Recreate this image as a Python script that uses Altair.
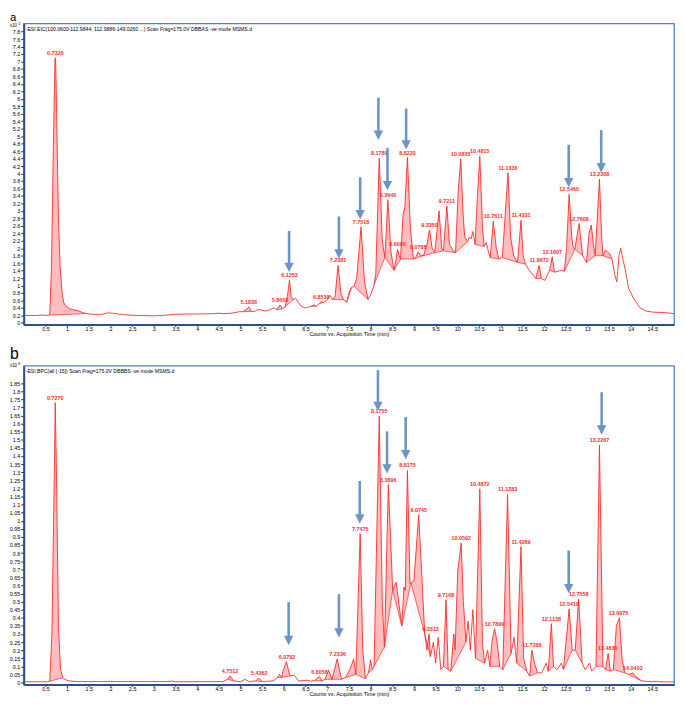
import altair as alt
import numpy as np
import pandas as pd

# ---------------- panel a (EIC, x10^5) ----------------
a_trace = [
    (0.02, 0.20), (0.30, 0.20), (0.45, 0.21), (0.55, 0.20), (0.60, 0.21), (0.64, 1.5), (0.68, 4.5),
    (0.72, 7.05), (0.735, 7.1), (0.76, 5.5), (0.80, 2.8), (0.84, 1.5), (0.88, 0.85), (0.92, 0.55),
    (0.97, 0.45), (1.05, 0.38), (1.15, 0.35), (1.25, 0.33), (1.35, 0.28), (1.45, 0.25), (1.6, 0.23),
    (1.8, 0.23), (1.95, 0.27), (2.05, 0.26), (2.3, 0.22), (2.6, 0.20), (3.0, 0.19), (3.2, 0.20),
    (3.5, 0.23), (3.8, 0.24), (4.1, 0.24), (4.4, 0.25), (4.5, 0.26), (4.6, 0.25), (4.8, 0.26),
    (4.97, 0.30), (5.05, 0.30), (5.12, 0.34), (5.19, 0.43), (5.25, 0.31), (5.32, 0.30), (5.40, 0.36),
    (5.47, 0.35), (5.55, 0.32), (5.65, 0.34), (5.72, 0.38), (5.78, 0.41), (5.83, 0.35), (5.91, 0.48),
    (5.97, 0.38), (6.03, 0.43), (6.08, 0.70), (6.13, 1.15), (6.17, 0.70), (6.21, 0.62), (6.27, 0.66),
    (6.33, 0.55), (6.40, 0.45), (6.48, 0.40), (6.55, 0.42), (6.62, 0.44), (6.69, 0.48), (6.75, 0.45),
    (6.82, 0.52), (6.86, 0.57), (6.92, 0.55), (6.99, 0.60), (7.06, 0.74), (7.12, 0.63), (7.18, 0.70),
    (7.25, 1.54), (7.32, 0.75), (7.38, 0.62), (7.45, 0.55), (7.50, 0.80), (7.56, 0.95), (7.62, 0.98),
    (7.68, 1.20), (7.78, 2.57), (7.86, 1.10), (7.94, 0.63), (8.02, 0.80), (8.08, 1.02), (8.12, 1.30),
    (8.20, 4.41), (8.27, 2.20), (8.33, 1.75), (8.40, 3.30), (8.47, 1.90), (8.54, 1.41), (8.59, 1.70),
    (8.62, 1.97), (8.66, 1.80), (8.69, 1.71), (8.75, 2.90), (8.79, 3.10), (8.85, 4.43), (8.92, 2.50),
    (8.99, 1.71), (9.05, 1.78), (9.10, 1.90), (9.15, 1.82), (9.22, 1.80), (9.30, 2.10), (9.36, 2.49),
    (9.42, 2.00), (9.48, 1.88), (9.58, 3.00), (9.64, 2.00), (9.68, 1.93), (9.76, 3.13), (9.82, 2.10),
    (9.90, 1.95), (9.96, 1.88), (10.02, 3.50), (10.08, 4.40), (10.13, 3.00), (10.17, 2.31), (10.24, 2.18),
    (10.28, 2.30), (10.32, 2.25), (10.36, 2.45), (10.41, 2.10), (10.46, 3.30), (10.52, 4.46), (10.58, 2.60),
    (10.62, 2.05), (10.67, 2.15), (10.72, 1.90), (10.76, 1.75), (10.83, 2.72), (10.90, 2.00), (10.96, 1.71),
    (11.04, 1.75), (11.10, 2.80), (11.17, 4.02), (11.23, 2.30), (11.30, 1.80), (11.39, 1.62), (11.47, 2.75),
    (11.52, 1.80), (11.57, 1.58), (11.65, 1.42), (11.72, 1.32), (11.81, 1.19), (11.89, 1.54), (11.94, 1.19),
    (12.02, 1.14), (12.13, 1.41), (12.19, 1.77), (12.24, 1.36), (12.32, 1.38), (12.39, 1.41), (12.47, 1.38),
    (12.52, 2.00), (12.58, 3.44), (12.64, 2.30), (12.67, 2.05), (12.71, 1.97), (12.81, 2.66), (12.89, 1.80),
    (12.98, 1.62), (13.04, 2.40), (13.09, 2.62), (13.14, 2.10), (13.18, 1.80), (13.28, 3.85), (13.33, 2.30),
    (13.36, 1.80), (13.42, 1.95), (13.47, 1.89), (13.52, 1.84), (13.57, 1.71), (13.63, 1.30), (13.68, 1.10),
    (13.73, 1.80), (13.77, 2.00), (13.82, 1.70), (13.87, 1.45), (13.95, 0.93), (14.06, 0.67), (14.21, 0.41),
    (14.35, 0.32), (14.50, 0.29), (14.70, 0.28), (14.85, 0.27), (15.00, 0.25),
]
a_time = [p[0] for p in a_trace]
a_counts = [p[1] for p in a_trace]

a_region_start = [0.60, 5.05, 5.83, 6.03, 6.62, 6.82, 7.12, 7.45, 7.62, 8.08, 8.33, 8.54, 8.69, 8.99,
                  9.22, 9.48, 9.68, 9.96, 10.41, 10.76, 11.04, 11.39, 11.81, 12.13, 12.47, 12.71,
                  12.98, 13.18, 13.36]
a_region_end = [1.45, 5.25, 5.97, 6.21, 6.75, 6.92, 7.38, 7.56, 7.94, 8.33, 8.54, 8.69, 8.99, 9.22,
                9.48, 9.68, 9.96, 10.24, 10.62, 10.96, 11.39, 11.57, 11.94, 12.24, 12.71, 12.89,
                13.18, 13.36, 13.57]

a_label_text = ["0.7320", "5.1838", "5.8658", "6.1253", "6.8539", "7.2381", "7.7518", "8.1789",
                "8.3940", "8.6080", "8.8220", "9.0788", "9.3350", "9.7211", "10.0835", "10.4815",
                "10.7611", "11.1336", "11.4331", "11.8672", "12.1607", "12.5460", "12.7608", "13.2308"]
a_label_time = [0.73, 5.19, 5.91, 6.13, 6.86, 7.25, 7.78, 8.20, 8.40, 8.62, 8.85, 9.10, 9.36, 9.76,
                10.08, 10.52, 10.83, 11.17, 11.47, 11.89, 12.19, 12.58, 12.81, 13.28]
a_label_counts = [7.1, 0.43, 0.48, 1.15, 0.57, 1.54, 2.57, 4.41, 3.30, 1.97, 4.43, 1.90, 2.49, 3.13,
                  4.40, 4.46, 2.72, 4.02, 2.75, 1.54, 1.77, 3.44, 2.66, 3.85]

a_arrow_time = [6.12, 7.27, 7.76, 8.18, 8.39, 8.82, 12.57, 13.32]
a_arrow_from = [2.46, 2.85, 3.90, 6.03, 4.68, 5.74, 4.77, 5.16]
a_arrow_to = [1.36, 1.72, 2.77, 4.90, 3.55, 4.64, 3.63, 4.03]

a_header = "-ESI EIC(100.0600-112.9844, 112.9886-149.0260 ...) Scan Frag=175.0V DBBAS -ve mode MSMS.d"

# ---------------- panel b (BPC, x10^6) ----------------
b_trace = [
    (0.02, 0.005), (0.55, 0.005), (0.60, 0.008), (0.65, 0.30), (0.70, 1.20), (0.727, 1.73), (0.76, 1.20),
    (0.80, 0.35), (0.85, 0.08), (0.90, 0.03), (1.00, 0.012), (1.20, 0.006), (2.0, 0.006), (3.3, 0.006),
    (3.42, 0.009), (3.5, 0.005), (4.6, 0.006), (4.70, 0.02), (4.76, 0.04), (4.85, 0.01), (5.0, 0.005),
    (5.10, 0.02), (5.2, 0.006), (5.35, 0.01), (5.42, 0.028), (5.5, 0.006), (5.75, 0.01), (5.85, 0.03),
    (5.90, 0.05), (5.95, 0.03), (5.99, 0.08), (6.06, 0.13), (6.14, 0.04), (6.24, 0.045), (6.34, 0.01),
    (6.54, 0.014), (6.62, 0.008), (6.70, 0.012), (6.82, 0.037), (6.88, 0.01), (6.95, 0.02), (7.03, 0.077),
    (7.11, 0.02), (7.23, 0.146), (7.33, 0.02), (7.42, 0.03), (7.53, 0.085), (7.61, 0.146), (7.66, 0.05),
    (7.76, 0.92), (7.82, 0.20), (7.88, 0.024), (7.95, 0.06), (8.00, 0.14), (8.04, 0.08), (8.08, 0.10),
    (8.20, 1.646), (8.27, 0.50), (8.32, 0.22), (8.41, 1.224), (8.51, 0.57), (8.59, 0.62), (8.72, 0.35),
    (8.77, 0.59), (8.80, 0.57), (8.85, 1.311), (8.91, 0.61), (9.00, 0.63), (9.11, 1.037), (9.25, 0.30),
    (9.30, 0.20), (9.35, 0.30), (9.38, 0.16), (9.45, 0.25), (9.50, 0.12), (9.56, 0.28), (9.62, 0.08),
    (9.68, 0.10), (9.74, 0.51), (9.79, 0.08), (9.85, 0.07), (9.92, 0.30), (9.95, 0.20), (10.01, 0.69),
    (10.09, 0.862), (10.14, 0.50), (10.20, 0.25), (10.25, 0.38), (10.30, 0.20), (10.36, 0.45), (10.42, 0.15),
    (10.52, 1.197), (10.58, 0.25), (10.63, 0.12), (10.70, 0.20), (10.75, 0.10), (10.80, 0.25), (10.86, 0.333),
    (10.92, 0.25), (10.98, 0.10), (11.05, 0.08), (11.16, 1.163), (11.24, 0.18), (11.31, 0.28), (11.37, 0.12),
    (11.47, 0.841), (11.53, 0.15), (11.60, 0.07), (11.67, 0.04), (11.72, 0.20), (11.78, 0.12), (11.85, 0.06),
    (11.95, 0.06), (12.05, 0.12), (12.10, 0.07), (12.17, 0.364), (12.22, 0.10), (12.30, 0.08), (12.40, 0.12),
    (12.45, 0.08), (12.58, 0.455), (12.65, 0.20), (12.72, 0.20), (12.80, 0.516), (12.88, 0.12), (12.95, 0.08),
    (13.05, 0.12), (13.10, 0.07), (13.20, 0.10), (13.28, 1.467), (13.36, 0.10), (13.42, 0.08), (13.48, 0.18),
    (13.53, 0.07), (13.60, 0.08), (13.67, 0.35), (13.74, 0.40), (13.80, 0.15), (13.86, 0.06), (13.95, 0.05),
    (14.05, 0.06), (14.10, 0.04), (14.25, 0.01), (14.50, 0.005), (14.60, 0.008), (14.70, 0.004), (15.00, 0.004),
]
b_time = [p[0] for p in b_trace]
b_counts = [p[1] for p in b_trace]

b_region_start = [0.60, 4.70, 5.35, 5.85, 6.70, 6.95, 7.11, 7.42, 7.66, 7.95, 8.08, 8.32, 8.51, 8.72,
                  8.93, 9.25, 9.68, 9.85, 10.42, 10.75, 11.05, 11.37, 11.67, 12.10, 12.45, 12.72,
                  13.20, 13.42, 13.60, 13.95]
b_region_end = [0.90, 4.85, 5.50, 6.14, 6.88, 7.11, 7.33, 7.66, 7.88, 8.04, 8.32, 8.51, 8.72, 8.93,
                9.25, 9.38, 9.79, 10.20, 10.63, 10.98, 11.24, 11.60, 11.85, 12.22, 12.65, 12.88,
                13.36, 13.53, 13.86, 14.25]

b_label_text = ["0.7270", "4.7512", "5.4362", "6.0782", "6.8058", "7.2336", "7.7475", "8.1755",
                "8.3896", "8.8175", "9.0745", "9.3313", "9.7168", "10.0592", "10.4872", "10.7899",
                "11.1283", "11.4289", "11.7288", "12.1138", "12.5418", "12.7558", "13.2267", "13.4836",
                "13.6975", "14.0402"]
b_label_time = [0.727, 4.76, 5.43, 6.07, 6.82, 7.24, 7.76, 8.20, 8.41, 8.85, 9.11, 9.38, 9.74, 10.09,
                10.52, 10.86, 11.16, 11.47, 11.72, 12.17, 12.58, 12.80, 13.28, 13.47, 13.72, 14.05]
b_label_counts = [1.73, 0.04, 0.028, 0.13, 0.037, 0.146, 0.92, 1.646, 1.224, 1.311, 1.037, 0.30, 0.51,
                  0.862, 1.197, 0.333, 1.163, 0.841, 0.20, 0.364, 0.455, 0.516, 1.467, 0.18, 0.40, 0.06]

b_arrow_time = [6.11, 7.27, 7.75, 8.17, 8.38, 8.81, 12.57, 13.33]
b_arrow_from = [0.497, 0.546, 1.246, 1.931, 1.552, 1.641, 0.816, 1.794]
b_arrow_to = [0.231, 0.278, 0.982, 1.678, 1.292, 1.380, 0.552, 1.532]

b_header = "-ESI BPC(all [-15]) Scan Frag=175.0V DBBBS -ve mode MSMS.d"

x_ticks = [i * 0.5 for i in range(1, 30)]
a_y_ticks = [round(i * 0.2, 1) for i in range(0, 40)]
b_y_ticks = [round(i * 0.05, 2) for i in range(0, 38)]

RED = "#ff2a2a"
PINK = "#ffbdbd"
ARROW = "#6c94c7"
AXIS_BLUE = "#2d4f92"
FONT = "Liberation Sans"
PLOT_W = 661


def panel(time, counts, rs, re_, ltxt, lt, lv, at, af, ato, ydom, yticks, height, header, letter,
          expo, letter_size, letter_y, exp_y):
    xs = alt.Scale(domain=[0, 15], nice=False, zero=False)
    ys = alt.Scale(domain=ydom, nice=False, zero=False)
    xax = alt.Axis(values=x_ticks, format="~g", title="Counts vs. Acquisition Time (min)",
                   labelFontSize=5.5, titleFontSize=5.5, tickSize=2, labelPadding=0, titlePadding=0,
                   grid=False, labelOverlap=False, labelFlush=False, domainColor=AXIS_BLUE,
                   domainWidth=2, titleFontWeight="normal")
    yax = alt.Axis(values=yticks, format="~g", title=None, labelFontSize=5.5, tickSize=3,
                   labelPadding=1, grid=False, labelOverlap=False, labelFlush=False,
                   domainColor=AXIS_BLUE, domainWidth=2)
    X = alt.X("t:Q", scale=xs, axis=xax)
    Y = alt.Y("v:Q", scale=ys, axis=yax)

    trace = pd.DataFrame({"t": time, "v": counts})

    rows, rules = [], []
    for i, (s, e) in enumerate(zip(rs, re_)):
        vs = float(np.interp(s, time, counts))
        ve = float(np.interp(e, time, counts))
        ts = [s] + [t for t in time if s < t < e] + [e]
        for t in ts:
            v = float(np.interp(t, time, counts))
            b = vs + (ve - vs) * (t - s) / (e - s)
            rows.append({"t": t, "v": v, "b": b, "rid": i})
        rules.append({"t": s, "t2": e, "v": vs, "v2": ve})
    fill = pd.DataFrame(rows)
    base = pd.DataFrame(rules)

    ppu = height / (ydom[1] - ydom[0])
    arrows = pd.DataFrame({"t": at, "v": af, "v2": [v + 6.0 / ppu for v in ato], "tip": ato})
    labels = pd.DataFrame({"t": lt, "v": lv, "txt": ltxt})

    area_l = alt.Chart(fill).mark_area(color=PINK, opacity=1).encode(
        x=X, y=Y, y2=alt.Y2("b:Q"), detail="rid:N")
    base_l = alt.Chart(base).mark_rule(color=RED, strokeWidth=0.7).encode(
        x=X, x2=alt.X2("t2:Q"), y=Y, y2=alt.Y2("v2:Q"))
    line_l = alt.Chart(trace).mark_line(color=RED, strokeWidth=0.9).encode(x=X, y=Y)
    lab_l = alt.Chart(labels).mark_text(color=RED, fontSize=5.5, fontWeight="bold", font=FONT,
                                        baseline="bottom", dy=-2).encode(x=X, y=Y, text="txt:N")
    shaft_l = alt.Chart(arrows).mark_rule(color=ARROW, strokeWidth=2.6).encode(
        x=X, y=Y, y2=alt.Y2("v2:Q"))
    head_l = alt.Chart(arrows).mark_point(shape="M-1,-2L1,-2L0,0Z", size=90, filled=True,
                                          color=ARROW, opacity=1).encode(
        x=X, y=alt.Y("tip:Q", scale=ys, axis=yax))
    hdr = pd.DataFrame({"s": [header]})
    head_txt = alt.Chart(hdr).mark_text(fontSize=5.2, font=FONT, align="left", baseline="middle",
                                        color="black").encode(
        x=alt.value(2), y=alt.value(5.5), text="s:N")
    let = pd.DataFrame({"s": [letter]})
    let_txt = alt.Chart(let).mark_text(fontSize=letter_size, font=FONT, align="left",
                                       baseline="alphabetic", color="black").encode(
        x=alt.value(-14), y=alt.value(letter_y), text="s:N")
    ex = pd.DataFrame({"s": ["x10"]})
    ex_txt = alt.Chart(ex).mark_text(fontSize=4.5, font=FONT, align="left", baseline="middle",
                                     color="black").encode(
        x=alt.value(-14), y=alt.value(exp_y), text="s:N")
    sp = pd.DataFrame({"s": [expo]})
    sp_txt = alt.Chart(sp).mark_text(fontSize=4, font=FONT, align="left", baseline="middle",
                                     color="black").encode(
        x=alt.value(-5.5), y=alt.value(exp_y - 2.2), text="s:N")

    return alt.layer(area_l, base_l, line_l, lab_l, shaft_l, head_l, head_txt, let_txt, ex_txt,
                     sp_txt).properties(width=PLOT_W, height=height)


top = panel(a_time, a_counts, a_region_start, a_region_end, a_label_text, a_label_time,
            a_label_counts, a_arrow_time, a_arrow_from, a_arrow_to, [-0.04, 8.02], a_y_ticks,
            306, a_header, "a", "5", 11.5, -2.5, 2.5)
bottom = panel(b_time, b_counts, b_region_start, b_region_end, b_label_text, b_label_time,
               b_label_counts, b_arrow_time, b_arrow_from, b_arrow_to, [-0.012, 1.958], b_y_ticks,
               324, b_header, "b", "6", 16, -7, 0.5)

chart = alt.vconcat(top, bottom, spacing=7).properties(
    padding={"top": -3.1, "left": 0, "right": 0, "bottom": 0},
    background="white",
).configure_view(stroke="#4f81c7", strokeWidth=1.3).configure_axis(
    labelFont=FONT, titleFont=FONT, labelColor="black", titleColor="black", tickColor="#222",
)

chart.save("out.html", embed_options={"renderer": "svg", "actions": False})
